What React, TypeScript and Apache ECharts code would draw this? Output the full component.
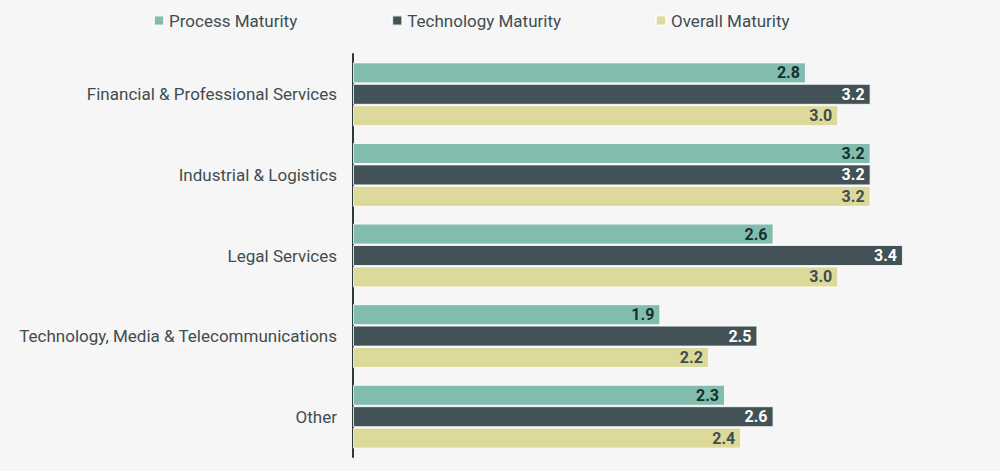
import { useEffect, useRef } from 'react';
import * as echarts from 'echarts';

const categories = [
  'Financial & Professional Services',
  'Industrial & Logistics',
  'Legal Services',
  'Technology, Media & Telecommunications',
  'Other',
];

const processMaturity = [2.8, 3.2, 2.6, 1.9, 2.3];
const technologyMaturity = [3.2, 3.2, 3.4, 2.5, 2.6];
const overallMaturity = [3.0, 3.2, 3.0, 2.2, 2.4];

const seriesNames = ['Process Maturity', 'Technology Maturity', 'Overall Maturity'];

export default function App() {
  const chartRef = useRef<HTMLDivElement>(null);

  useEffect(() => {
    if (!chartRef.current) return;
    document.body.style.margin = '0';
    const chart = echarts.init(chartRef.current, null, { renderer: 'svg' });

    const font = 'Roboto, "Noto Sans", sans-serif';

    const makeSeries = (name: string, data: number[], color: string, labelColor: string) => ({
      name,
      type: 'bar' as const,
      data,
      barWidth: 21,
      barGap: '2%',
      itemStyle: { color, borderColor: 'rgba(255,255,255,0.8)', borderWidth: 1 },
      label: {
        show: true,
        position: 'insideRight',
        offset: [-1, 0],
        formatter: (p: any) => p.value.toFixed(1),
        color: labelColor,
        fontWeight: 'bold',
        fontSize: 16,
        fontFamily: font,
      },
    });

    chart.setOption({
      animation: false,
      backgroundColor: '#f6f6f6',
      legend: {
        data: seriesNames,
        left: 148,
        top: 7,
        icon: 'rect',
        itemWidth: 10,
        itemHeight: 10,
        itemGap: 94,
        textStyle: { color: '#3f4d50', fontSize: 17, fontFamily: font },
      },
      grid: { left: 353, right: 0, top: 54, bottom: 14 },
      xAxis: {
        type: 'value',
        min: 0,
        max: 4,
        show: false,
      },
      yAxis: {
        type: 'category',
        data: categories,
        inverse: true,
        axisLine: { show: true, lineStyle: { color: '#2c3a3c', width: 2 } },
        axisTick: { show: false },
        axisLabel: {
          color: '#3f4d50',
          fontSize: 17,
          fontFamily: font,
          margin: 16,
        },
      },
      series: [
        makeSeries(seriesNames[0], processMaturity, '#82bcae', '#15302e'),
        makeSeries(seriesNames[1], technologyMaturity, '#435256', '#ffffff'),
        makeSeries(seriesNames[2], overallMaturity, '#dcd99a', '#3f4d50'),
      ],
    });

    return () => chart.dispose();
  }, []);

  return <div ref={chartRef} style={{ width: 1000, height: 471 }} />;
}
